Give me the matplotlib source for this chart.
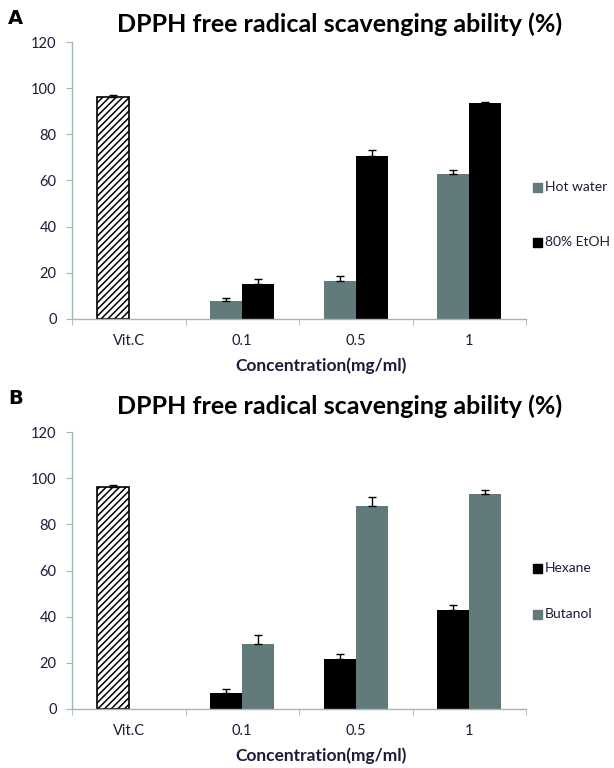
import matplotlib
matplotlib.use("Agg")
import matplotlib.pyplot as plt
import numpy as np

plt.rcParams['font.family'] = ['Lato', 'DejaVu Sans']
plt.rcParams['hatch.linewidth'] = 1.1

# ---- data ----
categories = ['Vit.C', '0.1', '0.5', '1']
title = 'DPPH free radical scavenging ability (%)'
xlabel = 'Concentration(mg/ml)'
yticks = [0, 20, 40, 60, 80, 100, 120]

vitc_A = 96.2
vitc_A_err = 1.0
hot_water = [8.0, 16.5, 63.0]
hot_water_err = [1.0, 2.0, 1.7]
etoh = [15.0, 70.5, 93.5]
etoh_err = [2.5, 2.6, 0.5]

vitc_B = 96.2
vitc_B_err = 1.0
hexane = [7.0, 21.6, 43.0]
hexane_err = [1.5, 2.4, 2.0]
butanol = [28.0, 88.0, 93.0]
butanol_err = [4.0, 3.7, 1.8]

GRAY = '#627a79'
BLACK = '#000000'
AXC = '#a3b6b6'
TXT = '#1c1c3a'

W, H = 614, 768
fig = plt.figure(figsize=(W / 100, H / 100), dpi=100)


def px_axes(left, top, right, bottom):
    return fig.add_axes([left / W, 1 - bottom / H, (right - left) / W, (bottom - top) / H])


def panel(ax, letter, vitc, vitc_err, s1, s1_err, c1, n1, s2, s2_err, c2, n2,
          top_px, bottom_px, title_y, letter_y, leg_y):
    w = 0.282
    x = np.arange(1, len(categories))
    ekw = dict(elinewidth=1.0, capthick=1.0, ecolor='black')
    ax.bar(0 - w / 2, vitc, w, color='white', edgecolor='black', hatch='/////',
           linewidth=1.2, yerr=[[0], [vitc_err]], capsize=3, error_kw=ekw)
    ax.bar(x - w / 2, s1, w, color=c1, linewidth=0,
           yerr=[np.zeros(len(s1)), s1_err], capsize=3, error_kw=ekw)
    ax.bar(x + w / 2, s2, w, color=c2, linewidth=0,
           yerr=[np.zeros(len(s2)), s2_err], capsize=3, error_kw=ekw)
    ax.set_xlim(-0.5, len(categories) - 0.5)
    ax.set_ylim(0, 120)
    ax.set_yticks(yticks)
    ax.set_yticklabels([str(t) for t in yticks], color=TXT, fontsize=10.5)
    ax.set_xticks(np.arange(len(categories)))
    ax.set_xticklabels(categories, color=TXT, fontsize=10.5)
    ax.set_xticks(np.arange(len(categories) + 1) - 0.5, minor=True)
    ax.tick_params(axis='x', which='major', length=0, pad=11)
    ax.tick_params(axis='x', which='minor', length=4, color=AXC, direction='out')
    ax.tick_params(axis='y', length=4, color=AXC, pad=7)
    for s in ['top', 'right']:
        ax.spines[s].set_visible(False)
    for s in ['left', 'bottom']:
        ax.spines[s].set_color(AXC)
        ax.spines[s].set_linewidth(1.0)
    # titles and labels
    fig.text(340 / W, 1 - title_y / H, title, ha='center', va='center',
             fontsize=18, fontweight='bold', color='black')
    fig.text(8 / W, 1 - letter_y / H, letter, ha='left', va='center',
             fontsize=14, fontweight='bold', family='DejaVu Sans', color='black')
    fig.text(321 / W, 1 - (bottom_px + 47) / H, xlabel, ha='center', va='center',
             fontsize=12.5, fontweight='bold', color=TXT)
    # legend
    for (name, col), yy in zip([(n1, c1), (n2, c2)], leg_y):
        fig.patches.append(plt.Rectangle((533 / W, 1 - (yy + 4.5) / H), 9 / W, 9 / H,
                                         transform=fig.transFigure, color=col, figure=fig))
        fig.text(545 / W, 1 - yy / H, name, ha='left', va='center', fontsize=10, color=TXT)


axA = px_axes(72, 42, 526, 319)
panel(axA, 'A', vitc_A, vitc_A_err, hot_water, hot_water_err, GRAY, 'Hot water',
      etoh, etoh_err, BLACK, '80% EtOH', 42, 319, 24, 19, [187, 242])

axB = px_axes(72, 432, 526, 709)
panel(axB, 'B', vitc_B, vitc_B_err, hexane, hexane_err, BLACK, 'Hexane',
      butanol, butanol_err, GRAY, 'Butanol', 432, 709, 406, 399, [568, 614])

fig.savefig('out.png', dpi=100)
